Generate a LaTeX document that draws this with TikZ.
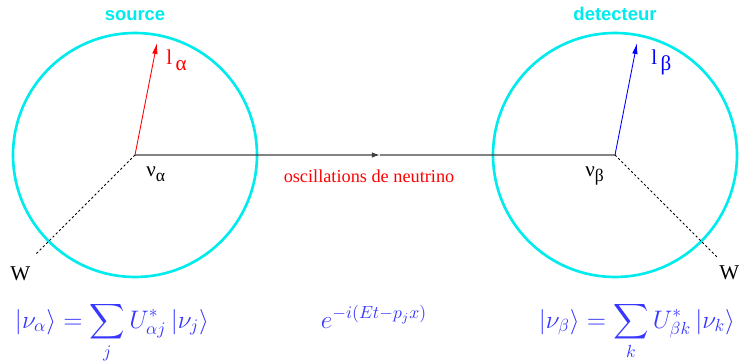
\documentclass[tikz,border=0pt]{standalone}
\usepackage{fontspec}
\usepackage{amsmath, amssymb}
\usetikzlibrary{arrows.meta,calc,positioning}
\newfontfamily\timesfont{Liberation Serif}
\newfontfamily\helvfont{Liberation Sans}
\definecolor{regionCyan}{RGB}{0,235,235}
\definecolor{formulaBlue}{RGB}{55,55,255}

\begin{document}
\begin{tikzpicture}[
  x=0.02cm, y=-0.02cm,
  >=Latex,
  region/.style={circle, draw=regionCyan, line width=1.5pt, minimum size=4.88cm, inner sep=0pt},
  regionTitle/.style={font=\helvfont\bfseries\fontsize{10.5}{12}\selectfont, text=regionCyan, anchor=base, inner sep=0pt},
  particle/.style={font=\timesfont\fontsize{12}{14}\selectfont, anchor=base west, inner sep=0pt},
  formula/.style={font=\fontsize{14}{16}\selectfont, text=formulaBlue, anchor=base, inner sep=0pt},
  lepton/.style={-{Latex[length=2.2mm, width=1.1mm]}, line width=0.5pt},
  flight/.style={line width=0.6pt, draw=black!75},
  wline/.style={line width=0.5pt, dash pattern=on 1.3pt off 1.3pt}
]
\useasboundingbox (0,0) rectangle (740,361);

\node[region] (source) at (135,155) {};
\node[region] (detector) at (615,155) {};

\node[regionTitle] at ([yshift=0.22cm]source.north) {source};
\node[regionTitle] at ([yshift=0.22cm]detector.north) {detecteur};

% neutrino flight
\coordinate (mid) at ($(source.center)!0.51!(detector.center)$);
\draw[flight, -{Latex[length=1.6mm, width=1.1mm]}] (source.center) -- (mid);
\draw[flight] (mid) -- (detector.center);
\node[font=\timesfont\fontsize{10.4}{12}\selectfont, text=red, anchor=base, inner sep=0pt] (osc) at (369,183) {oscillations de neutrino};

% charged leptons
\coordinate (lalphaTip) at (157,43);
\coordinate (lbetaTip) at (637,43);
\draw[lepton, red] (source.center) -- (lalphaTip);
\draw[lepton, blue] (detector.center) -- (lbetaTip);
\node[particle, text=red] (lalpha) at (166,65) {l\,\raisebox{-0.6ex}{α}};
\node[particle, text=blue] (lbeta) at (651,65) {l\,\raisebox{-0.6ex}{β}};

% W lines
\node[particle] (wsrc) at (10,280) {W};
\node[particle] (wdet) at (719,279) {W};
\coordinate (wsrcEnd) at (35,255);
\coordinate (wdetEnd) at (717,257);
\draw[wline] (source.center) -- (wsrcEnd);
\draw[wline] (detector.center) -- (wdetEnd);

\node[particle] (nualpha) at (146,177) {ν\raisebox{-0.5ex}{\fontsize{10}{12}\selectfont α}};
\node[particle] (nubeta) at (585,177) {ν\raisebox{-0.5ex}{\fontsize{10}{12}\selectfont β}};

% mixing
\node[formula] (mixalpha) at (112,328) {$\displaystyle |\nu_\alpha\rangle = \sum_j U^*_{\alpha j}\,|\nu_j\rangle$};
\node[formula] (phase) at (374,328) {$e^{-i(Et-p_jx)}$};
\node[formula] (mixbeta) at (637,328) {$\displaystyle |\nu_\beta\rangle = \sum_k U^*_{\beta k}\,|\nu_k\rangle$};
\end{tikzpicture}
\end{document}
